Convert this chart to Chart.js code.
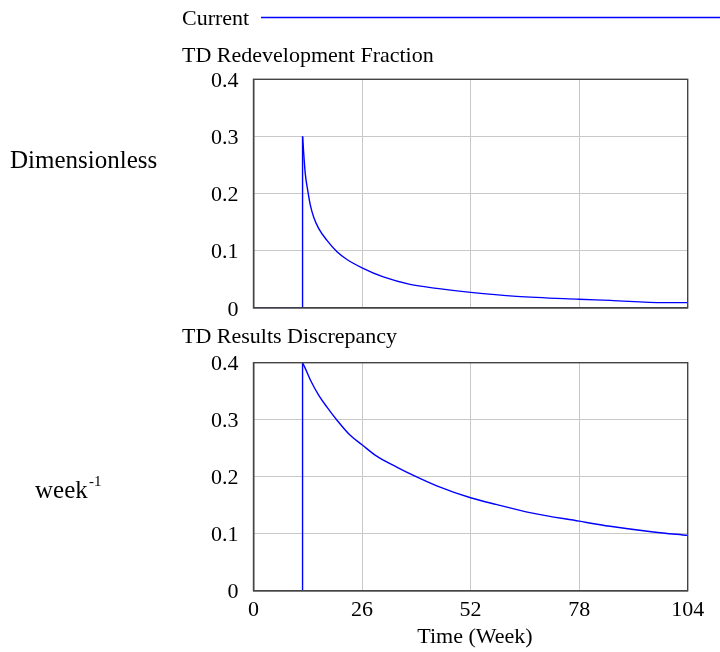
<!DOCTYPE html>
<html>
<head>
<meta charset="utf-8">
<script src="https://cdn.jsdelivr.net/npm/chart.js@4"></script>
<style>
  html, body { margin:0; padding:0; background:#fff; }
  body { width:720px; height:652px; position:relative; overflow:hidden; }
  canvas { position:absolute; left:0; }
  #c1 { top:0; }
  #c2 { top:320px; }
</style>
</head>
<body>
<canvas id="c1" width="720" height="336"></canvas>
<canvas id="c2" width="720" height="332"></canvas>
<script>
// ---- data ----
const seriesName = "Current";
const xTicks = [0, 26, 52, 78, 104];
const yTicks = [0, 0.1, 0.2, 0.3, 0.4];

const weeksFraction = [0, 11.75, 11.75, 11.9, 12.0, 12.4, 13.0, 13.6, 14.4, 15.6, 17.6, 20.0, 22.3, 26.0, 31.1, 37.5, 43.9, 52.0, 63.0, 78.0, 85.4, 98.2, 104];
const valuesFraction = [0, 0, 0.300, 0.285, 0.273, 0.235, 0.205, 0.180, 0.159, 0.139, 0.118, 0.098, 0.085, 0.070, 0.054, 0.041, 0.034, 0.027, 0.020, 0.015, 0.013, 0.009, 0.009];

const weeksDiscrepancy = [0, 11.75, 11.75, 12.4, 13.6, 15.6, 17.6, 20.0, 23.1, 26.0, 29.5, 34.3, 38.7, 43.9, 52.0, 58.3, 66.2, 78.0, 85.4, 95.8, 104];
const valuesDiscrepancy = [0, 0, 0.400, 0.390, 0.370, 0.343, 0.322, 0.299, 0.273, 0.256, 0.236, 0.217, 0.201, 0.184, 0.163, 0.151, 0.137, 0.122, 0.113, 0.103, 0.097];

const panelTitles = ["TD Redevelopment Fraction", "TD Results Discrepancy"];
const unitLabels = ["Dimensionless", "week"];
const xTitle = "Time (Week)";

// ---- drawing ----
const SERIF = "'Liberation Serif', 'Times New Roman', serif";
const BLUE = "#0000ff";

const frame = {
  id: 'frame',
  afterDatasetsDraw(chart) {
    const {ctx, chartArea: a} = chart;
    ctx.save();
    ctx.strokeStyle = '#444';
    ctx.lineWidth = 1.4;
    ctx.strokeRect(a.left, a.top, a.right - a.left, a.bottom - a.top);
    ctx.restore();
  }
};

const texts = {
  id: 'texts',
  afterDraw(chart, args, opts) {
    const ctx = chart.ctx;
    ctx.save();
    ctx.fillStyle = '#000';
    ctx.textBaseline = 'alphabetic';
    for (const t of (opts.items || [])) {
      ctx.font = t.size + 'px ' + SERIF;
      ctx.textAlign = t.align || 'left';
      ctx.fillText(t.text, t.x, t.y);
    }
    if (opts.legend) {
      ctx.strokeStyle = BLUE;
      ctx.lineWidth = 1.3;
      ctx.beginPath();
      ctx.moveTo(opts.legend.x0, opts.legend.y);
      ctx.lineTo(opts.legend.x1, opts.legend.y);
      ctx.stroke();
    }
    ctx.restore();
  }
};

function toPoints(xs, ys) { return xs.map((x, i) => ({x, y: ys[i]})); }

function makeChart(id, xs, ys, padTop, xHeight, showX, textOpts) {
  const pts = toPoints(xs, ys);
  const lineStyle = { borderColor: BLUE, borderWidth: 1.4, pointRadius: 0, fill: false };
  return new Chart(document.getElementById(id), {
    type: 'line',
    data: { datasets: [
      // flat part and the vertical jump
      Object.assign({ label: seriesName, data: pts.slice(0, 3), tension: 0 }, lineStyle),
      // decay after the jump
      Object.assign({ label: seriesName, data: pts.slice(2), cubicInterpolationMode: 'monotone' }, lineStyle)
    ]},
    options: {
      responsive: false,
      animation: false,
      layout: { padding: { left: 0, right: 32.3, top: padTop, bottom: 0 } },
      plugins: { legend: { display: false }, tooltip: { enabled: false }, texts: textOpts },
      scales: {
        x: {
          type: 'linear', min: 0, max: 104,
          afterBuildTicks: s => { s.ticks = xTicks.map(v => ({value: v})); },
          ticks: { display: showX, color: '#000', font: { family: SERIF, size: 22 }, padding: 6, maxRotation: 0, autoSkip: false },
          grid: { color: '#c8c8c8', lineWidth: 1, drawTicks: false },
          border: { color: '#444', width: 1.4 },
          afterFit: s => { s.height = xHeight; }
        },
        y: {
          min: 0, max: 0.4,
          afterBuildTicks: s => { s.ticks = yTicks.map(v => ({value: v})); },
          ticks: { color: '#000', font: { family: SERIF, size: 22 }, padding: 15, labelOffset: 2,
                   callback: v => v === 0 ? '0' : v.toFixed(1) },
          grid: { color: '#c8c8c8', lineWidth: 1, drawTicks: false },
          border: { color: '#444', width: 1.4 },
          afterFit: s => { s.width = 253.5; }
        }
      }
    },
    plugins: [frame, texts]
  });
}

makeChart('c1', weeksFraction, valuesFraction, 79.3, 12.3, false, {
  items: [
    { text: seriesName, x: 182, y: 25, size: 22 },
    { text: panelTitles[0], x: 182, y: 61.7, size: 22 },
    { text: unitLabels[0], x: 10, y: 168.3, size: 25 }
  ],
  legend: { x0: 261, x1: 720, y: 17.5 }
});

makeChart('c2', weeksDiscrepancy, valuesDiscrepancy, 42.7, 61.3, true, {
  items: [
    { text: panelTitles[1], x: 182, y: 22.7, size: 22 },
    { text: unitLabels[1], x: 35, y: 178.3, size: 25 },
    { text: "-1", x: 89, y: 166, size: 15 },
    { text: xTitle, x: 475, y: 323, size: 22, align: 'center' }
  ]
});
</script>
</body>
</html>
